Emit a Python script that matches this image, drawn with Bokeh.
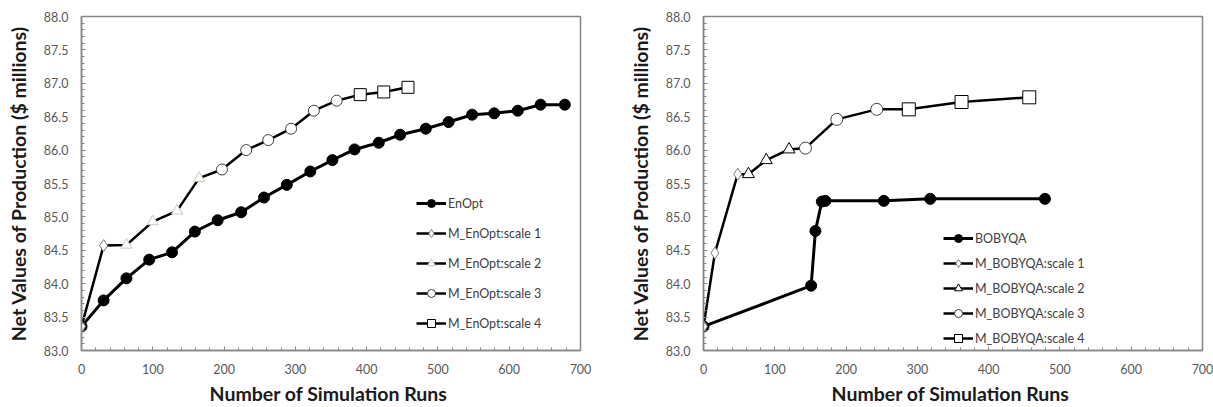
from bokeh.plotting import figure
from bokeh.layouts import row
from bokeh.models import (Range1d, Legend, LegendItem, SingleIntervalTicker,
                          PrintfTickFormatter)
from bokeh.embed import file_html
from bokeh.resources import INLINE

# ---- EnOpt panel data ----
enopt_runs = [0, 31, 63, 95, 127, 159, 191, 224, 256, 288, 321, 352, 383, 417,
              447, 483, 515, 548, 579, 612, 644, 678]
enopt_npv = [83.36, 83.75, 84.08, 84.36, 84.47, 84.78, 84.95, 85.07, 85.29, 85.48,
             85.68, 85.85, 86.01, 86.11, 86.23, 86.32, 86.42, 86.53, 86.55, 86.59,
             86.68, 86.68]

m_enopt_s1_runs = [0, 31]
m_enopt_s1_npv = [83.36, 84.57]
m_enopt_s2_runs = [63, 100, 134, 165]
m_enopt_s2_npv = [84.58, 84.93, 85.09, 85.58]
m_enopt_s3_runs = [197, 231, 262, 294, 326, 358]
m_enopt_s3_npv = [85.71, 86.00, 86.15, 86.32, 86.59, 86.74]
m_enopt_s4_runs = [391, 424, 458]
m_enopt_s4_npv = [86.83, 86.87, 86.94]

# ---- BOBYQA panel data ----
bobyqa_runs = [0, 151, 157, 166, 171, 253, 318, 479]
bobyqa_npv = [83.36, 83.97, 84.79, 85.23, 85.24, 85.24, 85.27, 85.27]

m_bobyqa_s1_runs = [0, 16, 48]
m_bobyqa_s1_npv = [83.36, 84.46, 85.64]
m_bobyqa_s2_runs = [63, 88, 120]
m_bobyqa_s2_npv = [85.64, 85.85, 86.01]
m_bobyqa_s3_runs = [143, 187, 243]
m_bobyqa_s3_npv = [86.03, 86.46, 86.61]
m_bobyqa_s4_runs = [288, 362, 457]
m_bobyqa_s4_npv = [86.61, 86.72, 86.79]

x_title = "Number of Simulation  Runs"
y_title = "Net Values of Production ($ millions)"

AXIS_GRAY = "#868686"
TICK_TEXT = "#595959"


def style_axes(p):
    p.grid.visible = False
    p.outline_line_color = AXIS_GRAY
    p.outline_line_width = 1.5
    p.xaxis.ticker = SingleIntervalTicker(interval=100, num_minor_ticks=5)
    p.yaxis.ticker = SingleIntervalTicker(interval=0.5, num_minor_ticks=5)
    p.yaxis.formatter = PrintfTickFormatter(format="%.1f")
    for ax in (p.xaxis[0], p.yaxis[0]):
        ax.axis_line_color = AXIS_GRAY
        ax.axis_line_width = 1.5
        ax.major_tick_line_color = AXIS_GRAY
        ax.minor_tick_line_color = AXIS_GRAY
        ax.major_tick_in = 4
        ax.major_tick_out = 0
        ax.minor_tick_in = 3
        ax.minor_tick_out = 0
        ax.major_label_text_font = "Lato"
        ax.major_label_text_font_size = "12.5px"
        ax.major_label_text_color = TICK_TEXT
        ax.axis_label_text_font = "Lato"
        ax.axis_label_text_font_size = "19.5px"
        ax.axis_label_text_font_style = "bold"
        ax.axis_label_text_color = "#1a1a1a"
    p.xaxis.axis_label = x_title
    p.yaxis.axis_label = y_title
    p.xaxis.major_label_standoff = 13
    p.xaxis.axis_label_standoff = 5
    p.yaxis.major_label_standoff = 13
    p.yaxis.axis_label_standoff = 11


def panel(width, b_left, b_right, base, m_series, legend_xy, spacing):
    p = figure(width=width, height=407, x_range=Range1d(0, 700), y_range=Range1d(83, 88),
               output_backend="svg", toolbar_location=None,
               min_border_left=b_left, min_border_right=b_right,
               min_border_top=16, min_border_bottom=57)
    style_axes(p)

    name, runs, npv = base
    bl = p.line(runs, npv, line_color="black", line_width=3)
    bm = p.scatter(runs, npv, marker="circle", size=11, fill_color="black", line_color="black")
    legend_items = [LegendItem(label=name, renderers=[bl, bm])]

    # each scale's line starts from the last point of the previous scale
    lines = []
    prev = None
    for (label, runs, npv, marker, size, edge) in m_series:
        lx = ([prev[0]] if prev else []) + list(runs)
        ly = ([prev[1]] if prev else []) + list(npv)
        lines.append(p.line(lx, ly, line_color="black", line_width=2.5))
        prev = (runs[-1], npv[-1])

    for ml, (label, runs, npv, marker, size, edge) in zip(lines, m_series):
        mm = p.scatter(runs, npv, marker=marker, size=size, fill_color="white",
                       line_color=edge, line_width=1)
        legend_items.append(LegendItem(label=label, renderers=[ml, mm]))

    legend = Legend(items=legend_items, location=legend_xy, glyph_width=30, glyph_height=20,
                    label_height=20, spacing=spacing, padding=0, margin=0,
                    border_line_alpha=0, background_fill_alpha=0,
                    label_text_font="Lato", label_text_font_size="12.5px",
                    label_text_color="#404040", label_standoff=2)
    p.add_layout(legend)
    return p


left = panel(606, 81, 26,
             ("EnOpt", enopt_runs, enopt_npv),
             [("M_EnOpt:scale 1", m_enopt_s1_runs, m_enopt_s1_npv, "diamond", 12, "#7a7a7a"),
              ("M_EnOpt:scale 2", m_enopt_s2_runs, m_enopt_s2_npv, "triangle", 11, "#c8c8b8"),
              ("M_EnOpt:scale 3", m_enopt_s3_runs, m_enopt_s3_npv, "circle", 11, "#404040"),
              ("M_EnOpt:scale 4", m_enopt_s4_runs, m_enopt_s4_npv, "square", 12, "black")],
             (335, 17), 10)

right = panel(607, 97, 11,
              ("BOBYQA", bobyqa_runs, bobyqa_npv),
              [("M_BOBYQA:scale 1", m_bobyqa_s1_runs, m_bobyqa_s1_npv, "diamond", 12, "#7a7a7a"),
               ("M_BOBYQA:scale 2", m_bobyqa_s2_runs, m_bobyqa_s2_npv, "triangle", 12, "black"),
               ("M_BOBYQA:scale 3", m_bobyqa_s3_runs, m_bobyqa_s3_npv, "circle", 12, "#404040"),
               ("M_BOBYQA:scale 4", m_bobyqa_s4_runs, m_bobyqa_s4_npv, "square", 13, "black")],
              (240, 2), 5)

layout = row(left, right)
open("out.html", "w").write(file_html(layout, INLINE))
